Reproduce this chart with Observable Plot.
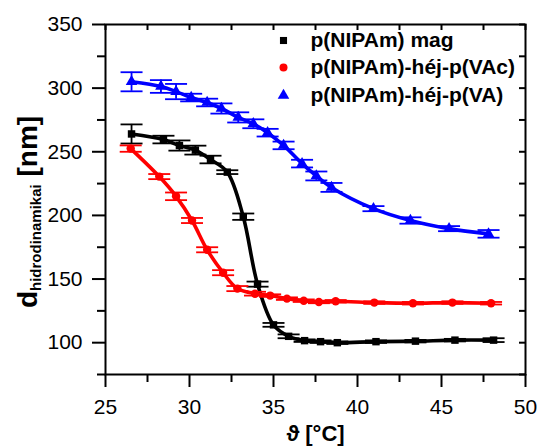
<!DOCTYPE html>
<html><head><meta charset="utf-8">
<script src="https://cdn.jsdelivr.net/npm/d3@7"></script>
<script src="https://cdn.jsdelivr.net/npm/@observablehq/plot@0.6"></script>
<style>
body{margin:0;background:#fff;}
#chart{width:539px;height:446px;}
</style>
</head><body><div id="chart"></div>
<script>
// ---- data ----
const seriesNames = ["p(NIPAm) mag", "p(NIPAm)-héj-p(VAc)", "p(NIPAm)-héj-p(VA)"];
const seriesColors = ["#000000", "#ff0000", "#0000ff"];
const seriesSymbols = ["square", "circle", "triangle"];

const magX   = [26.55, 28.45, 29.4, 30.35, 31.25, 32.25, 33.2, 34.05, 35.0, 35.9, 36.85, 37.8, 38.8, 41.1, 43.45, 45.8, 48.1];
const magY   = [264, 259.6, 254.9, 251.3, 243.9, 234, 199, 146, 114, 105, 101.6, 100.8, 100, 100.8, 101.2, 102, 102];
const magErr = [7.5, 3, 4, 3.5, 3, 1.5, 2.5, 2, 1.5, 1.5, 1, 1, 1, 1, 1, 1, 1.5];

const vacX   = [26.5, 28.2, 29.2, 30.15, 31.05, 32.0, 32.85, 33.9, 34.8, 35.8, 36.8, 37.7, 38.7, 41.0, 43.3, 45.65, 47.95];
const vacY   = [252.5, 230.5, 215, 196, 173, 155, 142.5, 138.5, 137, 134.6, 133, 132, 132.5, 131.5, 131, 131.5, 131];
const vacErr = [2.5, 2, 3, 2, 2, 2, 2, 1.5, 1, 1, 1, 1, 1, 1, 1, 1, 1];

const vaX   = [26.55, 28.3, 29.2, 30.1, 31.05, 31.9, 32.9, 33.8, 34.65, 35.6, 36.7, 37.55, 38.45, 40.95, 43.15, 45.45, 47.8];
const vaY   = [305, 301.3, 297.3, 292.6, 288.7, 284, 277, 272, 265, 255, 240.7, 231, 222, 205.3, 196, 189.6, 185.5];
const vaErr = [7.5, 5, 6, 3, 3, 4, 4, 3.5, 3, 3, 3, 3.5, 3.5, 2, 2.5, 2, 3];

const xMajorTicks = [25, 30, 35, 40, 45, 50];
const xMinorTicks = [27.5, 32.5, 37.5, 42.5, 47.5];
const xAllTicks = [25, 27.5, 30, 32.5, 35, 37.5, 40, 42.5, 45, 47.5, 50];
const yMajorTicks = [100, 150, 200, 250, 300, 350];
const yMinorTicks = [75, 125, 175, 225, 275, 325];
const yAllTicks = [75, 100, 125, 150, 175, 200, 225, 250, 275, 300, 325, 350];

const xLabel = "ϑ [°C]";
const yLabelMain = "d";
const yLabelSub = "hidrodinamikai";
const yLabelUnit = "\u00a0[nm]";

// ---- build table ----
const raw = [[magX, magY, magErr], [vacX, vacY, vacErr], [vaX, vaY, vaErr]];
const series = raw.map(([xs, ys, es], i) => xs.map((x, j) => ({x, y: ys[j], e: es[j], s: i})));

const FONT = "'Liberation Sans', Arial, Helvetica, sans-serif";
const capSymbol = {
  draw(context, size) {
    const w = Math.sqrt(size / Math.PI);
    context.moveTo(-w, 0);
    context.lineTo(w, 0);
  }
};

const marks = [];
// lines
series.forEach((d, i) => {
  marks.push(Plot.line(d, {x: "x", y: "y", stroke: seriesColors[i], strokeWidth: 3.6, curve: "catmull-rom"}));
});
// error bars
series.forEach((d, i) => {
  marks.push(Plot.ruleX(d, {x: "x", y1: r => r.y - r.e, y2: r => r.y + r.e, stroke: seriesColors[i], strokeWidth: 1.8}));
  marks.push(Plot.dot(d, {x: "x", y: r => r.y - r.e, symbol: capSymbol, r: 11, stroke: seriesColors[i], strokeWidth: 1.8, fill: "none"}));
  marks.push(Plot.dot(d, {x: "x", y: r => r.y + r.e, symbol: capSymbol, r: 11, stroke: seriesColors[i], strokeWidth: 1.8, fill: "none"}));
});
// markers
series.forEach((d, i) => {
  marks.push(Plot.dot(d, {x: "x", y: "y", symbol: seriesSymbols[i], r: i === 2 ? 4.3 : 4.2, fill: seriesColors[i], stroke: "none"}));
});

// axes
marks.push(
  Plot.axisY({ticks: yMajorTicks, tickSize: 13, tickPadding: 10, strokeWidth: 2, fontSize: 21, label: null}),
  Plot.axisY({ticks: yMinorTicks, tickSize: 8, strokeWidth: 2, tickFormat: () => "", label: null}),
  Plot.axisY({anchor: "left", frameAnchor: "right", ticks: yAllTicks, tickSize: 6, strokeWidth: 2, tickFormat: () => "", label: null}),
  Plot.axisX({ticks: xMajorTicks, tickSize: 13, tickPadding: 12, strokeWidth: 2, fontSize: 21, label: null}),
  Plot.axisX({ticks: xMinorTicks, tickSize: 8, strokeWidth: 2, tickFormat: () => "", label: null}),
  Plot.axisX({anchor: "bottom", frameAnchor: "top", ticks: xAllTicks, tickSize: 6, strokeWidth: 2, tickFormat: () => "", label: null}),
  Plot.frame({stroke: "black", strokeWidth: 2}),
  Plot.text([xLabel], {frameAnchor: "bottom", dy: 59, text: d => d, fontSize: 22, fontWeight: "bold", lineAnchor: "middle"})
);

// legend (inside plot, top right)
const legendDy = [16, 43, 71];
seriesNames.forEach((name, i) => {
  marks.push(Plot.dot([name], {frameAnchor: "top-left", dx: 178, dy: legendDy[i], symbol: seriesSymbols[i], r: i === 2 ? 4.3 : 4, fill: seriesColors[i]}));
  marks.push(Plot.text([name], {frameAnchor: "top-left", dx: 205, dy: legendDy[i], text: d => d, textAnchor: "start", lineAnchor: "middle", fontSize: 21, fontWeight: "bold"}));
});

const plot = Plot.plot({
  width: 539,
  height: 446,
  marginLeft: 105,
  marginRight: 14,
  marginTop: 24,
  marginBottom: 72,
  style: {fontFamily: FONT, fontSize: "21px", color: "black", background: "white"},
  x: {domain: [25, 50]},
  y: {domain: [75, 350]},
  marks
});

// y axis title with subscript
const t = d3.select(plot).append("text")
  .attr("transform", "translate(37,212) rotate(-90)")
  .attr("text-anchor", "middle")
  .attr("font-weight", "bold")
  .attr("font-family", FONT)
  .attr("fill", "black");
t.append("tspan").attr("font-size", 28).text(yLabelMain);
t.append("tspan").attr("font-size", 15).attr("dy", 4).text(yLabelSub);
t.append("tspan").attr("font-size", 28).attr("dy", -4).text(yLabelUnit);

document.getElementById("chart").appendChild(plot);
</script>
</body></html>
